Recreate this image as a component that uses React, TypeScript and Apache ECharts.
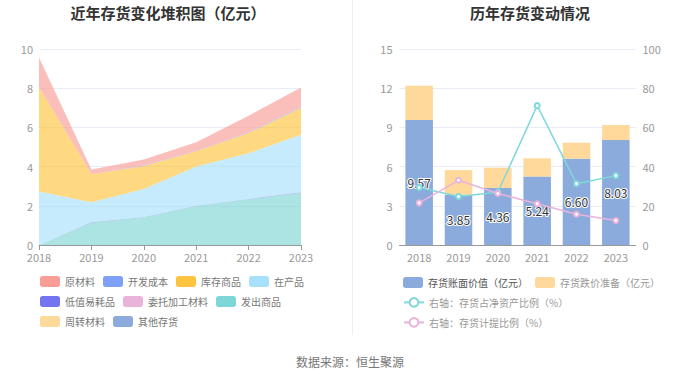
import React, { useEffect, useRef } from "react";
import * as echarts from "echarts";

const years = ["2018", "2019", "2020", "2021", "2022", "2023"];

// Left stacked area (亿元)
const rawMaterial = [1.51, 0.24, 0.31, 0.44, 0.86, 0.99]; // 原材料
const devCost = [0, 0, 0.02, 0.02, 0.03, 0.04]; // 开发成本
const goodsInStock = [5.33, 1.43, 1.17, 0.78, 1.03, 1.38]; // 库存商品
const wip = [2.73, 1.02, 1.43, 2.0, 2.33, 2.93]; // 在产品
const lowValue = [0, 0.02, 0.02, 0.01, 0.02, 0.02]; // 低值易耗品
const consigned = [0, 0, 0, 0, 0, 0]; // 委托加工材料
const shipped = [0, 1.14, 1.41, 1.99, 2.33, 2.67]; // 发出商品
const turnover = [0, 0, 0, 0, 0, 0]; // 周转材料
const otherInv = [0, 0, 0, 0, 0, 0]; // 其他存货

// Right chart
const bookValue = [9.57, 3.85, 4.36, 5.24, 6.6, 8.03]; // 存货账面价值
const reserve = [2.62, 1.89, 1.56, 1.39, 1.23, 1.15]; // 存货跌价准备
const ratioNetAssets = [29.3, 24.7, 26.9, 71.1, 31.3, 35.4]; // 存货占净资产比例
const provisionRatio = [21.5, 33.0, 26.3, 21.0, 15.7, 12.5]; // 存货计提比例

const areaDefs = [
  { name: "原材料", color: "#f99d96", data: rawMaterial },
  { name: "开发成本", color: "#7fa0f9", data: devCost },
  { name: "库存商品", color: "#fdc43f", data: goodsInStock },
  { name: "在产品", color: "#a8e0fb", data: wip },
  { name: "低值易耗品", color: "#7474f0", data: lowValue },
  { name: "委托加工材料", color: "#e8b4d9", data: consigned },
  { name: "发出商品", color: "#7fd6d6", data: shipped },
  { name: "周转材料", color: "#fdd99a", data: turnover },
  { name: "其他存货", color: "#8aabdb", data: otherInv },
];

const leftRows = [
  ["原材料", "开发成本", "库存商品", "在产品"],
  ["低值易耗品", "委托加工材料", "发出商品"],
  ["周转材料", "其他存货"],
];

export default function App() {
  const ref = useRef<HTMLDivElement>(null);
  useEffect(() => {
    if (!ref.current) return;
    const chart = echarts.init(ref.current, undefined, { renderer: "svg" });
    const font = "'Noto Sans CJK SC', 'Noto Sans', sans-serif";
    const stackSeries = areaDefs
      .slice()
      .reverse()
      .map((d) => ({
        name: d.name,
        type: "line",
        stack: "inv",
        xAxisIndex: 0,
        yAxisIndex: 0,
        data: d.data,
        symbol: "none",
        color: d.color,
        lineStyle: { width: 0 },
        areaStyle: { color: d.color, opacity: 0.65 },
      }));
    const axisLabel = { color: "#999", fontSize: 11, lineHeight: 11, fontFamily: font };
    const splitLine = { lineStyle: { color: "#e8ecf6" } };
    const legendBase = {
      padding: 0,
      itemWidth: 20,
      itemHeight: 11,
      itemGap: 8,
      orient: "horizontal",
    };
    const leftLegends = leftRows.map((row, i) => ({
      ...legendBase,
      left: 40,
      top: 276 + i * 20,
      icon: "roundRect",
      textStyle: { color: "#777", fontSize: 10, fontFamily: font },
      data: row,
    }));
    const rightItems = [
      { name: "存货账面价值（亿元）", icon: "roundRect", left: 403, top: 277, color: "#555" },
      { name: "存货跌价准备（亿元）", icon: "roundRect", left: 535, top: 277, color: "#999" },
      { name: "右轴：存货占净资产比例（%）", left: 403, top: 297, color: "#999" },
      { name: "右轴：存货计提比例（%）", left: 403, top: 317, color: "#999" },
    ];
    const rightLegends = rightItems.map((it) => ({
      ...legendBase,
      left: it.left,
      top: it.top,
      textStyle: { color: it.color, fontSize: 10, fontFamily: font },
      data: [it.icon ? { name: it.name, icon: it.icon } : { name: it.name }],
    }));
    chart.setOption({
      animation: false,
      textStyle: { fontFamily: font },
      graphic: [
        {
          type: "text",
          x: 168,
          y: 12,
          style: {
            text: "近年存货变化堆积图（亿元）",
            fontSize: 15,
            fontWeight: "bold",
            fill: "#333",
            textAlign: "center",
            textVerticalAlign: "middle",
            fontFamily: font,
          },
        },
        {
          type: "text",
          x: 530,
          y: 12,
          style: {
            text: "历年存货变动情况",
            fontSize: 15,
            fontWeight: "bold",
            fill: "#333",
            textAlign: "center",
            textVerticalAlign: "middle",
            fontFamily: font,
          },
        },
        {
          type: "line",
          shape: { x1: 352.5, y1: 0, x2: 352.5, y2: 335 },
          style: { stroke: "#eeeeee", lineWidth: 1 },
        },
        {
          type: "text",
          x: 350,
          y: 361,
          style: {
            text: "数据来源：恒生聚源",
            fontSize: 12,
            fill: "#777",
            textAlign: "center",
            textVerticalAlign: "middle",
            fontFamily: font,
          },
        },
      ],
      legend: [...leftLegends, ...rightLegends],
      grid: [
        { left: 39, right: 399, top: 49, bottom: 133 },
        { left: 399.5, right: 64.5, top: 49, bottom: 133 },
      ],
      xAxis: [
        {
          type: "category",
          gridIndex: 0,
          data: years,
          boundaryGap: false,
          axisLine: { lineStyle: { color: "#999" } },
          axisTick: { lineStyle: { color: "#999" } },
          axisLabel: { ...axisLabel, margin: 6 },
        },
        {
          type: "category",
          gridIndex: 1,
          data: years,
          axisLine: { lineStyle: { color: "#999" } },
          axisTick: { show: false },
          axisLabel: { ...axisLabel, margin: 6 },
        },
      ],
      yAxis: [
        {
          type: "value",
          gridIndex: 0,
          min: 0,
          max: 10,
          interval: 2,
          axisLabel: { ...axisLabel, margin: 6 },
          splitLine,
          axisLine: { show: false },
        },
        {
          type: "value",
          gridIndex: 1,
          min: 0,
          max: 15,
          interval: 3,
          axisLabel: { ...axisLabel, margin: 7 },
          splitLine,
          axisLine: { show: false },
        },
        {
          type: "value",
          gridIndex: 1,
          position: "right",
          min: 0,
          max: 100,
          interval: 20,
          axisLabel: { ...axisLabel, margin: 7 },
          splitLine: { show: false },
          axisLine: { show: false },
        },
      ],
      series: [
        ...stackSeries,
        {
          name: "存货账面价值（亿元）",
          type: "bar",
          xAxisIndex: 1,
          yAxisIndex: 1,
          stack: "bar",
          barWidth: "70%",
          data: bookValue,
          color: "#8aabdb",
          label: {
            show: true,
            position: "inside",
            color: "#333",
            fontSize: 12,
            textBorderColor: "#fff",
            textBorderWidth: 2,
            formatter: (p: any) => Number(p.value).toFixed(2),
          },
        },
        {
          name: "存货跌价准备（亿元）",
          type: "bar",
          xAxisIndex: 1,
          yAxisIndex: 1,
          stack: "bar",
          barWidth: "70%",
          data: reserve,
          color: "#fed99b",
        },
        {
          name: "右轴：存货占净资产比例（%）",
          type: "line",
          xAxisIndex: 1,
          yAxisIndex: 2,
          data: ratioNetAssets,
          color: "#7fd8dc",
          symbol: "emptyCircle",
          symbolSize: 5,
          lineStyle: { width: 1.5 },
        },
        {
          name: "右轴：存货计提比例（%）",
          type: "line",
          xAxisIndex: 1,
          yAxisIndex: 2,
          data: provisionRatio,
          color: "#eab3dc",
          symbol: "emptyCircle",
          symbolSize: 5,
          lineStyle: { width: 1.5 },
        },
      ],
    });
    return () => chart.dispose();
  }, []);
  return (
    <div
      ref={ref}
      style={{ position: "absolute", left: 0, top: 0, width: 700, height: 378 }}
    />
  );
}
